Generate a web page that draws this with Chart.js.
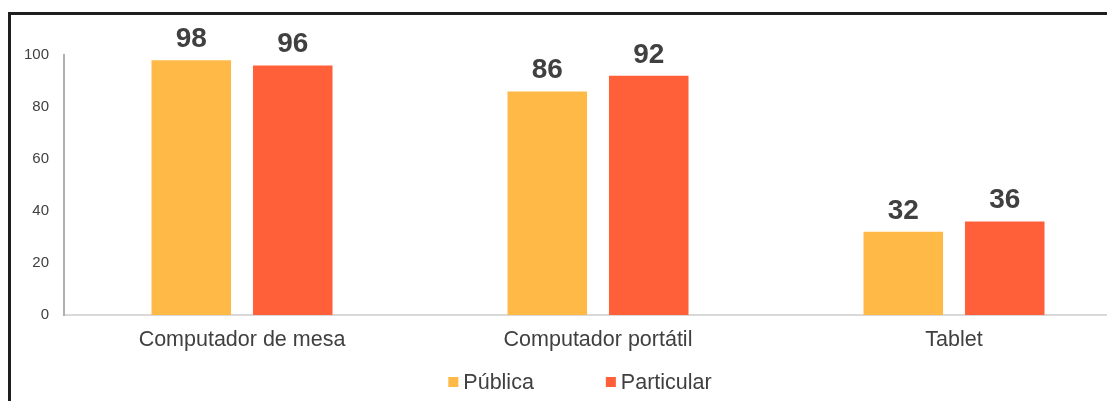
<!DOCTYPE html>
<html>
<head>
<meta charset="utf-8">
<script src="https://cdn.jsdelivr.net/npm/chart.js@4/dist/chart.umd.min.js"></script>
<style>
  html, body { margin: 0; padding: 0; background: #fff; overflow: hidden; }
  #frame {
    position: absolute; left: 8px; top: 12px;
    border-top: 3px solid #1e1e1e; border-left: 3px solid #1e1e1e;
    width: 1200px; height: 420px;
  }
  canvas { display: block; }
</style>
</head>
<body>
<div id="frame"><canvas id="chart" width="1130" height="386"></canvas></div>
<script>
// données du graphique
const categorias = ["Computador de mesa", "Computador portátil", "Tablet"];
const publica = [98, 86, 32];
const particular = [96, 92, 36];
const yTicks = [0, 20, 40, 60, 80, 100];

const FONT = "'Liberation Sans', Arial, sans-serif";
const TXT = "#404040";

// étiquettes de valeur au-dessus des barres
const valueLabels = {
    id: "valueLabels",
    afterDatasetsDraw(chart) {
        const ctx = chart.ctx;
        ctx.save();
        ctx.font = "bold 28px " + FONT;
        ctx.fillStyle = TXT;
        ctx.textAlign = "center";
        ctx.textBaseline = "alphabetic";
        chart.data.datasets.forEach((ds, i) => {
            chart.getDatasetMeta(i).data.forEach((bar, j) => {
                ctx.fillText(String(ds.data[j]), bar.x, bar.y - 13);
            });
        });
        ctx.restore();
    }
};

// légende dessinée à la main (espacement large)
const customLegend = {
    id: "customLegend",
    afterDraw(chart) {
        const ctx = chart.ctx;
        const ds = chart.data.datasets;
        const box = 10, gapText = 5, gapItem = 72;
        ctx.save();
        ctx.font = "21.5px " + FONT;
        const widths = ds.map(d => box + gapText + ctx.measureText(d.label).width);
        const total = widths.reduce((a, b) => a + b, 0) + gapItem * (ds.length - 1);
        let x = chart.width / 2 + 4 - total / 2;
        const y = 367;
        ds.forEach((d, i) => {
            ctx.fillStyle = d.backgroundColor;
            ctx.fillRect(x, y - box / 2, box, box);
            ctx.fillStyle = TXT;
            ctx.textAlign = "left";
            ctx.textBaseline = "middle";
            ctx.fillText(d.label, x + box + gapText, y + 1);
            x += widths[i] + gapItem;
        });
        ctx.restore();
    }
};

const ctx = document.getElementById("chart").getContext("2d");
new Chart(ctx, {
    type: "bar",
    data: {
        labels: categorias,
        datasets: [
            { label: "Pública", data: publica, backgroundColor: "#FFB946" },
            { label: "Particular", data: particular, backgroundColor: "#FF5F39" }
        ]
    },
    options: {
        responsive: false,
        animation: false,
        categoryPercentage: 0.57,
        barPercentage: 0.784,
        layout: { padding: { top: 40, right: 9, bottom: 36, left: 0 } },
        plugins: {
            legend: { display: false },
            tooltip: { enabled: false }
        },
        scales: {
            x: {
                grid: { display: false, drawTicks: false },
                border: { color: "#d9d9d9", width: 2 },
                ticks: { color: TXT, font: { family: FONT, size: 21.5 }, padding: 12 },
                afterFit(scale) { scale.height = 50; }
            },
            y: {
                min: 0,
                max: 100,
                grid: { display: false, drawTicks: false },
                border: { color: "#b0b0b0", width: 2 },
                afterBuildTicks(scale) { scale.ticks = yTicks.map(v => ({ value: v })); },
                ticks: { color: TXT, font: { family: FONT, size: 15 }, padding: 15 },
                afterFit(scale) { scale.width = 53; }
            }
        }
    },
    plugins: [valueLabels, customLegend]
});
</script>
</body>
</html>
